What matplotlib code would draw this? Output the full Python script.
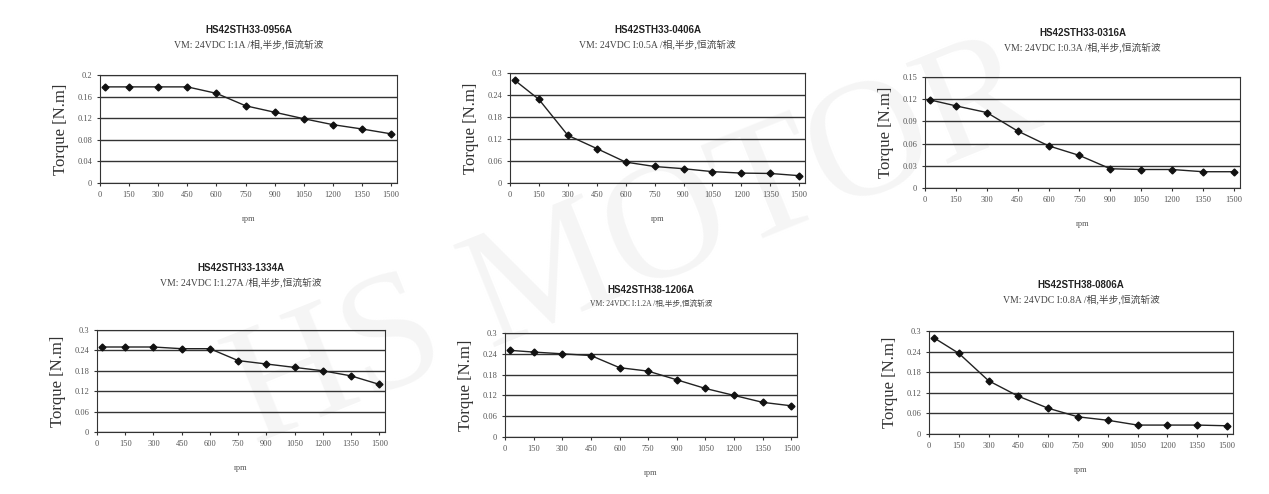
import matplotlib
matplotlib.use("Agg")
import matplotlib.pyplot as plt

rpm = [25, 150, 300, 450, 600, 750, 900, 1050, 1200, 1350, 1500]
xticks = [0, 150, 300, 450, 600, 750, 900, 1050, 1200, 1350, 1500]

titles = ["HS42STH33-0956A", "HS42STH33-0406A", "HS42STH33-0316A",
          "HS42STH33-1334A", "HS42STH38-1206A", "HS42STH38-0806A"]
subtitles = ["VM: 24VDC I:1A /相,半步,恒流斩波",
             "VM: 24VDC I:0.5A /相,半步,恒流斩波",
             "VM: 24VDC I:0.3A /相,半步,恒流斩波",
             "VM: 24VDC I:1.27A /相,半步,恒流斩波",
             "VM: 24VDC I:1.2A /相,半步,恒流斩波",
             "VM: 24VDC I:0.8A /相,半步,恒流斩波"]
torque_0956 = [0.178, 0.178, 0.178, 0.178, 0.166, 0.143, 0.131, 0.119, 0.108, 0.100, 0.091]
torque_0406 = [0.280, 0.228, 0.130, 0.094, 0.057, 0.045, 0.039, 0.031, 0.027, 0.026, 0.020]
torque_0316 = [0.119, 0.111, 0.102, 0.077, 0.057, 0.044, 0.026, 0.025, 0.025, 0.022, 0.022]
torque_1334 = [0.250, 0.250, 0.250, 0.245, 0.245, 0.210, 0.200, 0.190, 0.180, 0.165, 0.140]
torque_1206 = [0.250, 0.245, 0.240, 0.235, 0.200, 0.190, 0.165, 0.140, 0.120, 0.100, 0.090]
torque_0806 = [0.280, 0.235, 0.155, 0.110, 0.075, 0.050, 0.040, 0.026, 0.026, 0.026, 0.024]
series = [torque_0956, torque_0406, torque_0316, torque_1334, torque_1206, torque_0806]
yticks = [[0, 0.04, 0.08, 0.12, 0.16, 0.2],
          [0, 0.06, 0.12, 0.18, 0.24, 0.3],
          [0, 0.03, 0.06, 0.09, 0.12, 0.15],
          [0, 0.06, 0.12, 0.18, 0.24, 0.3],
          [0, 0.06, 0.12, 0.18, 0.24, 0.3],
          [0, 0.06, 0.12, 0.18, 0.24, 0.3]]

W, H = 1269, 494
boxes = [(100, 75, 397, 183), (510, 73, 805, 183), (925, 77, 1240, 188),
         (97, 330, 385, 432), (505, 333, 797, 437), (929, 331, 1233, 434)]
title_y = [30, 30, 33, 268, 290, 285]

fig = plt.figure(figsize=(W/100, H/100), dpi=100)
serif = ['Liberation Serif', 'Noto Sans CJK SC']
bg = fig.add_axes([0, 0, 1, 1], zorder=-5)
bg.axis('off')
bg.text(0.5, 0.5, "HS MOTOR", fontsize=120, color='#f5f5f5', rotation=22,
        ha='center', va='center', family='Liberation Serif', transform=bg.transAxes)

for i, (b, y) in enumerate(zip(boxes, series)):
    x0, y0, x1, y1 = b
    ax = fig.add_axes([x0/W, 1-y1/H, (x1-x0)/W, (y1-y0)/H])
    ax.patch.set_alpha(0)
    ax.plot(rpm, y, color='#222', lw=1, marker='D', ms=3.5, mfc='#111', mec='#111')
    ax.set_xlim(0, 1530)
    ax.set_ylim(0, yticks[i][-1])
    ax.set_xticks(xticks)
    ax.set_yticks(yticks[i])
    ax.set_yticklabels([f"{v:g}" for v in yticks[i]])
    ax.yaxis.grid(True, color='#333', lw=1)
    ax.tick_params(labelsize=6, length=2, colors='#333', labelcolor='#555')
    for lab in ax.get_xticklabels() + ax.get_yticklabels():
        lab.set_family('Liberation Serif')
    for s in ax.spines.values():
        s.set_color('#333')
    ax.set_ylabel("Torque [N.m]", fontsize=12, family='Liberation Serif', color='#333', labelpad=6)
    ax.set_xlabel("rpm", fontsize=6, family='Liberation Serif', color='#555', labelpad=12)
    cx = (x0 + x1) / 2 / W
    fig.text(cx, 1 - title_y[i]/H, titles[i], fontsize=7, fontweight='bold',
             ha='center', va='center', family='Liberation Sans', color='#222')
    fig.text(cx, 1 - (title_y[i]+14)/H, subtitles[i], fontsize=7 if i != 4 else 5.5,
             ha='center', va='center', family=serif, color='#444')

fig.savefig("out.png", dpi=100)
